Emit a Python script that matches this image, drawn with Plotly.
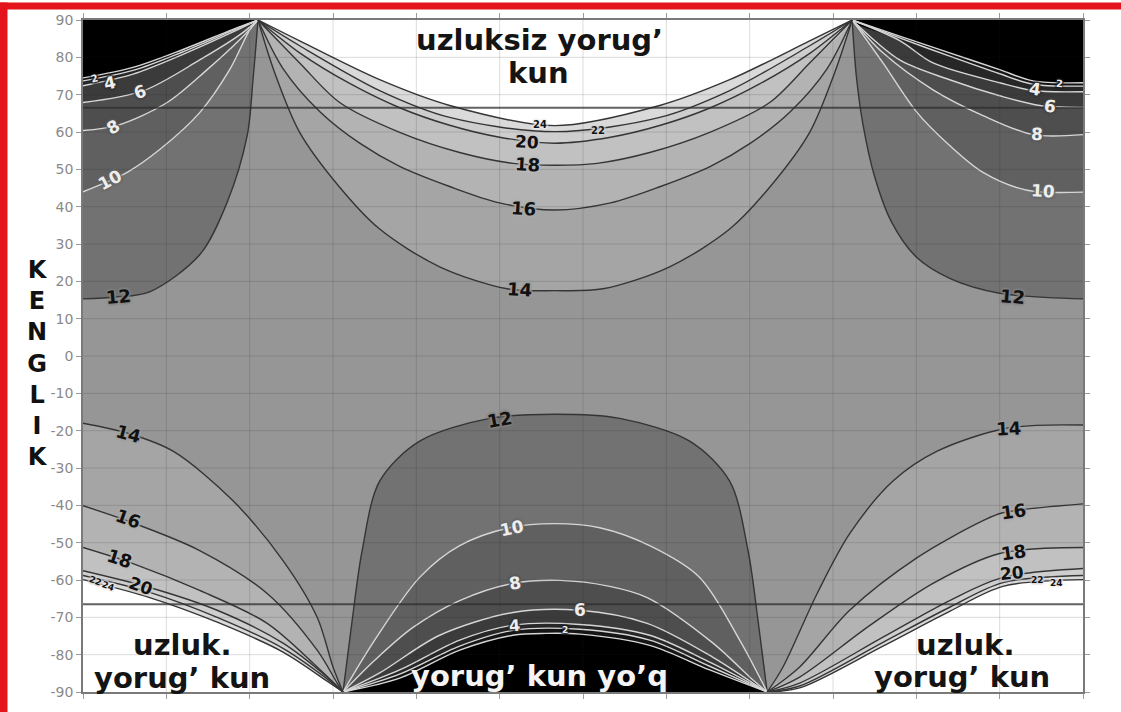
import plotly.graph_objects as go

# ---------------- data (x = month position 0..12, y = latitude in degrees) -------------
MONTH_TICKS = list(range(13))
LAT_TICKS = list(range(-90, 91, 10))

# north-west fan (left edge -> north pole point)
NW_0 = [(0, 74.5), (0.60, 77.3), (1.20, 82.1), (1.80, 87.5), (2.10, 90)]
NW_2 = [(0, 73.7), (0.60, 76.5), (1.20, 81.5), (1.80, 87.2), (2.10, 90)]
NW_4 = [(0, 72.4), (0.60, 75.5), (1.20, 80.8), (1.80, 86.8), (2.10, 90)]
NW_6 = [(0, 67.9), (0.72, 71.0), (1.40, 79.3), (1.88, 86.0), (2.10, 90)]
NW_8 = [(0, 60.4), (0.40, 61.7), (1.01, 67.9), (1.49, 76.7), (1.88, 84.7), (2.10, 90)]
NW_10 = [(0, 44.0), (0.53, 49.2), (0.92, 55.3), (1.40, 65.2), (1.76, 76.7), (2.00, 87.3), (2.10, 90)]
NW_12 = [(0, 15.3), (0.40, 15.8), (0.80, 17.2), (1.40, 27.1), (1.73, 41.2), (1.97, 59.0), (2.04, 74.0), (2.10, 90)]

# north-east fan (north pole point -> right edge)
NE_0 = [(9.23, 90), (9.80, 85.7), (10.40, 81.2), (11.00, 76.7), (11.40, 73.7), (12, 73.2)]
NE_2 = [(9.23, 90), (9.80, 85.2), (10.40, 80.3), (11.00, 75.6), (11.40, 72.8), (12, 72.3)]
NE_4 = [(9.23, 90), (9.80, 84.5), (10.20, 78.5), (11.00, 73.2), (11.40, 71.1), (12, 70.8)]
NE_6 = [(9.23, 90), (9.80, 79.3), (10.40, 74.0), (11.00, 69.7), (11.48, 67.1), (12, 66.6)]
NE_8 = [(9.23, 90), (9.60, 81.2), (10.20, 71.3), (10.80, 64.4), (11.40, 59.3), (12, 59.3)]
NE_10 = [(9.23, 90), (9.60, 78.5), (10.01, 65.2), (10.40, 56.4), (10.80, 49.2), (11.33, 44.4), (12, 43.9)]
NE_12 = [(9.23, 90), (9.28, 75.0), (9.36, 62.0), (9.50, 48.0), (9.70, 36.0), (10.00, 26.5), (10.40, 20.8), (11.00, 16.8), (12, 15.3)]

# northern summer bowl (pole point -> pole point)
N_14 = [(2.10, 90), (2.30, 75.9), (2.60, 59.9), (3.08, 45.2), (3.56, 34.0), (4.28, 23.9), (5.09, 18.0), (5.66, 17.5),
        (6.24, 18.0), (7.04, 23.9), (7.76, 34.0), (8.24, 45.2), (8.72, 59.9), (9.02, 75.9), (9.23, 90)]
N_16 = [(2.10, 90), (2.40, 77.0), (2.84, 65.5), (3.32, 57.0), (3.80, 50.8), (4.40, 45.4), (5.00, 41.0), (5.66, 39.1),
        (6.33, 41.0), (6.93, 45.4), (7.53, 50.8), (8.01, 57.0), (8.49, 65.5), (8.93, 77.0), (9.23, 90)]
N_18 = [(2.10, 90), (2.60, 78.5), (3.08, 67.9), (3.80, 59.9), (4.52, 54.5), (5.16, 51.6), (5.66, 51.1),
        (6.17, 51.6), (6.80, 54.5), (7.52, 59.9), (8.24, 67.9), (8.72, 78.5), (9.23, 90)]
N_20 = [(2.10, 90), (2.60, 81.2), (3.20, 73.0), (3.80, 66.5), (4.40, 61.8), (5.00, 58.6), (5.66, 57.0),
        (6.33, 58.6), (6.93, 61.8), (7.53, 66.5), (8.13, 73.0), (8.73, 81.2), (9.23, 90)]
N_22 = [(2.10, 90), (2.60, 83.1), (3.56, 71.1), (4.40, 63.9), (5.66, 60.1), (6.92, 63.9), (7.76, 71.1), (8.72, 83.1), (9.23, 90)]
N_24 = [(2.10, 90), (2.60, 84.4), (3.56, 74.0), (4.40, 67.1), (5.66, 61.7), (6.92, 67.1), (7.76, 74.0), (8.72, 84.4), (9.23, 90)]

# south-west fan (left edge -> south pole point)
SW_14 = [(0, -18.0), (0.54, -20.7), (1.08, -25.5), (1.80, -38.8), (2.40, -54.8), (2.81, -70.0), (3.00, -83.3), (3.12, -90)]
SW_16 = [(0, -40.1), (0.60, -44.7), (1.40, -52.1), (2.21, -63.6), (2.81, -78.8), (3.05, -87.6), (3.12, -90)]
SW_18 = [(0, -51.3), (0.60, -55.6), (1.40, -62.8), (2.21, -71.6), (2.81, -83.3), (3.12, -90)]
SW_20 = [(0, -57.5), (0.80, -62.0), (1.61, -68.1), (2.40, -76.9), (2.93, -86.0), (3.12, -90)]
SW_22 = [(0, -58.8), (0.80, -63.3), (1.61, -70.0), (2.40, -78.3), (2.93, -86.5), (3.12, -90)]
SW_24 = [(0, -59.9), (0.80, -64.7), (1.61, -71.3), (2.40, -79.3), (2.93, -87.1), (3.12, -90)]

# south-east fan (south pole point -> right edge)
SE_14 = [(8.21, -90), (8.40, -83.3), (8.81, -63.6), (9.20, -47.6), (9.72, -33.5), (10.25, -25.5), (11.10, -19.3), (12, -18.5)]
SE_16 = [(8.21, -90), (8.60, -83.3), (9.20, -68.1), (10.01, -54.0), (10.80, -44.1), (11.04, -42.0), (12, -39.6)]
SE_18 = [(8.21, -90), (8.60, -86.0), (9.41, -72.7), (10.20, -60.9), (11.00, -52.9), (12, -51.3)]
SE_20 = [(8.21, -90), (8.60, -87.6), (9.60, -75.3), (10.40, -65.5), (11.04, -59.3), (12, -56.9)]
SE_22 = [(8.21, -90), (8.60, -88.4), (9.60, -76.7), (10.40, -67.3), (11.04, -60.7), (12, -58.8)]
SE_24 = [(8.21, -90), (8.60, -88.9), (9.60, -77.7), (10.40, -68.4), (11.04, -61.7), (12, -59.9)]

# southern winter dome (pole point -> pole point)
S_12 = [(3.12, -90), (3.23, -70.8), (3.35, -52.1), (3.56, -33.5), (4.04, -22.8), (4.88, -16.7), (5.66, -15.6),
        (6.44, -16.7), (7.28, -22.8), (7.76, -33.5), (7.98, -52.1), (8.10, -70.8), (8.21, -90)]
S_10 = [(3.12, -90), (3.50, -76.1), (4.04, -59.3), (4.52, -50.8), (5.12, -46.0), (5.66, -44.9),
        (6.20, -46.0), (6.80, -50.8), (7.40, -59.3), (7.88, -76.1), (8.21, -90)]
S_8 = [(3.12, -90), (3.50, -81.5), (3.96, -72.7), (4.52, -65.5), (5.16, -60.9), (5.72, -60.1),
       (6.32, -61.7), (6.77, -64.7), (7.56, -76.9), (8.04, -86.8), (8.21, -90)]
S_6 = [(3.12, -90), (3.56, -84.9), (4.28, -74.8), (5.16, -68.7), (5.96, -68.1), (6.77, -71.6), (7.56, -80.7), (8.04, -87.6), (8.21, -90)]
S_4 = [(3.12, -90), (3.80, -84.1), (4.52, -76.1), (5.16, -72.1), (5.96, -71.9), (6.80, -74.8), (7.52, -82.0), (8.21, -90)]
S_2 = [(3.12, -90), (3.80, -85.2), (4.52, -77.7), (5.16, -73.5), (5.96, -73.2), (6.80, -76.1), (7.52, -83.1), (8.21, -90)]
S_0 = [(3.12, -90), (3.80, -86.3), (4.52, -78.8), (5.16, -74.8), (5.56, -74.3), (5.96, -74.5), (6.80, -77.5), (7.52, -84.1), (8.21, -90)]

# ---------------- styling ----------------
X_LEFT, X_RIGHT, Y_BOTTOM, Y_TOP = 0, 12, -90, 90
PAD_X, PAD_Y = 1.0, 6.0
BAND = {-2: "#000000", 0: "#151515", 2: "#272727", 4: "#3b3b3b", 6: "#4e4e4e", 8: "#606060",
        10: "#727272", 12: "#969696", 14: "#a5a5a5", 16: "#b3b3b3", 18: "#c1c1c1", 20: "#cecece",
        22: "#dadada", 24: "#ffffff"}
SMOOTH = 0.9
FONT = "DejaVu Sans"


def split(pts):
    return [p[0] for p in pts], [p[1] for p in pts]


def closed(pts, kind):
    xs, ys = split(pts)
    if kind == "nw":
        return [X_LEFT - PAD_X] + xs + [xs[-1], X_LEFT - PAD_X], [ys[0]] + ys + [Y_TOP + PAD_Y] * 2
    if kind == "ne":
        return [xs[0]] + xs + [X_RIGHT + PAD_X] * 2, [Y_TOP + PAD_Y] + ys + [ys[-1], Y_TOP + PAD_Y]
    if kind == "n":
        return xs + [xs[-1], xs[0]], ys + [Y_TOP + PAD_Y] * 2
    if kind == "sw":
        return [X_LEFT - PAD_X] + xs + [xs[-1], X_LEFT - PAD_X], [ys[0]] + ys + [Y_BOTTOM - PAD_Y] * 2
    if kind == "se":
        return [xs[0]] + xs + [X_RIGHT + PAD_X] * 2, [Y_BOTTOM - PAD_Y] + ys + [ys[-1], Y_BOTTOM - PAD_Y]
    return xs + [xs[-1], xs[0]], ys + [Y_BOTTOM - PAD_Y] * 2


GROUPS = [
    ("nw", [(12, NW_12), (10, NW_10), (8, NW_8), (6, NW_6), (4, NW_4), (2, NW_2), (0, NW_0)], -2),
    ("ne", [(12, NE_12), (10, NE_10), (8, NE_8), (6, NE_6), (4, NE_4), (2, NE_2), (0, NE_0)], -2),
    ("s", [(12, S_12), (10, S_10), (8, S_8), (6, S_6), (4, S_4), (2, S_2), (0, S_0)], -2),
    ("n", [(14, N_14), (16, N_16), (18, N_18), (20, N_20), (22, N_22), (24, N_24)], 0),
    ("sw", [(14, SW_14), (16, SW_16), (18, SW_18), (20, SW_20), (22, SW_22), (24, SW_24)], 0),
    ("se", [(14, SE_14), (16, SE_16), (18, SE_18), (20, SE_20), (22, SE_22), (24, SE_24)], 0),
]

fig = go.Figure()
for kind, curves, shift in GROUPS:
    for level, pts in curves:
        px, py = closed(pts, kind)
        fig.add_trace(go.Scatter(x=px, y=py, mode="lines", fill="toself",
                                 fillcolor=BAND[level + shift],
                                 line=dict(width=0, shape="spline", smoothing=SMOOTH),
                                 hoverinfo="skip", showlegend=False))
for kind, curves, shift in GROUPS:
    for level, pts in curves:
        xs, ys = split(pts)
        col = "#353535" if level >= 12 else "#d6d6d6"
        fig.add_trace(go.Scatter(x=xs, y=ys, mode="lines",
                                 line=dict(width=1.4, color=col, shape="spline", smoothing=SMOOTH),
                                 hoverinfo="skip", showlegend=False))

# grid and polar circles drawn over the shading
shapes = []
for m in MONTH_TICKS[1:-1]:
    shapes.append(dict(type="line", xref="x", yref="y", x0=m, x1=m, y0=Y_BOTTOM, y1=Y_TOP,
                       line=dict(color="rgba(40,40,40,0.16)", width=1), layer="above"))
for lat in LAT_TICKS[1:-1]:
    shapes.append(dict(type="line", xref="x", yref="y", x0=X_LEFT, x1=X_RIGHT, y0=lat, y1=lat,
                       line=dict(color="rgba(40,40,40,0.16)", width=1), layer="above"))
for lat in (66.5, -66.5):
    shapes.append(dict(type="line", xref="x", yref="y", x0=X_LEFT, x1=X_RIGHT, y0=lat, y1=lat,
                       line=dict(color="rgba(45,45,45,0.75)", width=2), layer="above"))
# red frame of the picture
shapes.append(dict(type="rect", xref="paper", yref="paper", x0=-0.083, x1=-0.0755, y0=-0.03, y1=1.026,
                   line=dict(width=0), fillcolor="#e3141b", layer="above"))
shapes.append(dict(type="rect", xref="paper", yref="paper", x0=-0.083, x1=1.04, y0=1.0155, y1=1.026,
                   line=dict(width=0), fillcolor="#e3141b", layer="above"))

annotations = []


def mix(a, b):
    ca = [int(a[i:i + 2], 16) for i in (1, 3, 5)]
    cb = [int(b[i:i + 2], 16) for i in (1, 3, 5)]
    return "#" + "".join("%02x" % ((x + y) // 2) for x, y in zip(ca, cb))


LABELS = [
    (2, 0.14, 74.3, -15, 10), (4, 0.32, 73.0, -12, 17), (6, 0.68, 70.7, -20, 17),
    (8, 0.36, 61.4, -30, 17), (10, 0.32, 47.2, -28, 17), (12, 0.42, 15.9, -5, 18),
    (14, 5.24, 17.9, 3, 18), (16, 5.28, 39.5, 3, 18), (18, 5.33, 51.3, 3, 18), (20, 5.33, 57.4, 3, 17),
    (24, 5.48, 61.9, 0, 10), (22, 6.18, 60.4, 0, 10),
    (4, 11.42, 71.6, 8, 17), (2, 11.72, 72.9, 5, 10), (6, 11.60, 66.9, 8, 17), (8, 11.45, 59.4, 3, 17),
    (10, 11.52, 44.1, 3, 17), (12, 11.15, 15.9, 5, 18),
    (14, 0.54, -20.7, 15, 18), (16, 0.54, -43.4, 20, 18), (18, 0.44, -54.3, 18, 18), (20, 0.70, -61.5, 20, 17),
    (22, 0.15, -60.3, 20, 9), (24, 0.30, -61.5, 20, 9),
    (14, 11.10, -19.3, -3, 18), (16, 11.16, -41.6, -8, 18), (18, 11.16, -52.6, -8, 18), (20, 11.15, -58.2, -5, 17),
    (22, 11.45, -60.1, 0, 9), (24, 11.68, -60.8, 0, 9),
    (12, 5.00, -16.9, -10, 18), (10, 5.15, -46.1, -12, 17), (8, 5.18, -60.8, -10, 17),
    (6, 5.96, -68.1, 0, 17), (4, 5.18, -72.2, -5, 16), (2, 5.78, -73.5, 0, 9),
]
for level, x, y, ang, size in LABELS:
    col = "#111111" if level >= 12 else "#eeeeee"
    halo = mix(BAND[level - 2], BAND[level])
    shadow = ", ".join("%dpx %dpx 2px %s" % (dx, dy, halo) for dx, dy in ((1, 1), (-1, -1), (1, -1), (-1, 1), (0, 0)))
    annotations.append(dict(x=x, y=y, xref="x", yref="y", text="<b>%d</b>" % level, showarrow=False,
                            textangle=ang, borderpad=0,
                            font=dict(family=FONT, size=size, color=col, shadow=shadow)))

for text, x, y, col in [
    ("uzluksiz yorug’", 5.48, 84.7, "#141414"), ("kun", 5.46, 75.9, "#141414"),
    ("uzluk.", 1.19, -77.5, "#141414"), ("yorug’ kun", 1.19, -86.3, "#141414"),
    ("uzluk.", 10.58, -77.5, "#141414"), ("yorug’ kun", 10.55, -86.0, "#141414"),
    ("yorug’ kun yo’q", 5.48, -85.8, "#f4f4f4"),
]:
    annotations.append(dict(x=x, y=y, xref="x", yref="y", text="<b>%s</b>" % text, showarrow=False,
                            font=dict(family=FONT, size=29, color=col)))

annotations.append(dict(x=-0.057, y=-2.0, xref="paper", yref="y",
                        text="<br>".join("<b>%s</b>" % c for c in "KENGLIK"),
                        showarrow=False, align="center", borderpad=0,
                        font=dict(family=FONT, size=24, color="#111111")))

fig.update_layout(
    width=1121, height=712,
    margin=dict(l=83, r=38, t=17, b=20),
    paper_bgcolor="white", plot_bgcolor=BAND[12],
    shapes=shapes, annotations=annotations,
    showlegend=False,
    xaxis=dict(range=[X_LEFT, X_RIGHT], tickvals=MONTH_TICKS, showticklabels=False, showgrid=False,
               zeroline=False, ticks="outside", ticklen=5, tickcolor="#9a9a9a", showline=True,
               linecolor="#7a7a7a", linewidth=1.5, mirror="ticks"),
    yaxis=dict(range=[Y_BOTTOM, Y_TOP], tickvals=LAT_TICKS, ticktext=[str(v) for v in LAT_TICKS],
               showgrid=False, zeroline=False, ticks="outside", ticklen=5, tickcolor="#9a9a9a",
               showline=True, linecolor="#7a7a7a", linewidth=1.5, mirror="ticks",
               tickfont=dict(family=FONT, size=14, color="#8a8a8a")),
)

fig.write_html("out.html")
